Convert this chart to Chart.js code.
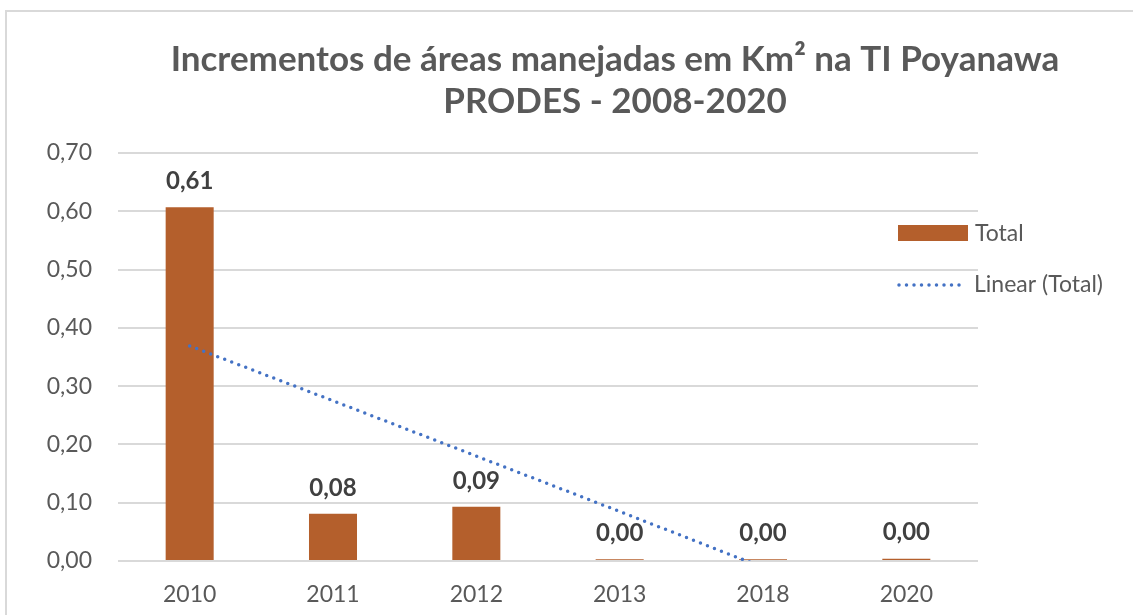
<!DOCTYPE html>
<html>
<head>
<meta charset="utf-8">
<script src="https://cdn.jsdelivr.net/npm/chart.js@4"></script>
<style>
  html, body { margin: 0; padding: 0; background: #fff; }
  #wrap { width: 1133px; height: 615px; position: relative; }
</style>
</head>
<body>
<div id="wrap"><canvas id="chart" width="1133" height="615"></canvas></div>
<script>
const years = ["2010", "2011", "2012", "2013", "2018", "2020"];
const totals = [0.607, 0.081, 0.093, 0.003, 0.003, 0.004];
// dotted trend (falls below zero after 2018, clipped)
const trend = [0.369, 0.275, 0.180, 0.085, -0.011, -0.106];
const titleLines = ["Incrementos de áreas manejadas em Km² na TI Poyanawa", "PRODES - 2008-2020"];

const fmt = v => v.toFixed(2).replace(".", ",");

const frame = {
    id: "frame",
    beforeDraw(chart) {
        const c = chart.ctx;
        c.save();
        c.strokeStyle = "#d9d9d9";
        c.lineWidth = 2;
        c.beginPath();
        c.moveTo(6, 620);
        c.lineTo(6, 11);
        c.lineTo(1140, 11);
        c.stroke();
        c.restore();
    }
};

// title centred on the whole frame, like the original
const topTitle = {
    id: "topTitle",
    afterDraw(chart) {
        const c = chart.ctx;
        c.save();
        c.font = "bold 35px Lato";
        c.fillStyle = "#595959";
        c.textAlign = "center";
        c.textBaseline = "middle";
        c.fillText(titleLines[0], 615, 60);
        c.fillText(titleLines[1], 615, 102);
        c.restore();
    }
};

const valueLabels = {
    id: "valueLabels",
    afterDatasetsDraw(chart) {
        const c = chart.ctx;
        const meta = chart.getDatasetMeta(0);
        c.save();
        c.font = "bold 24px Lato";
        c.fillStyle = "#404040";
        c.textAlign = "center";
        c.textBaseline = "middle";
        meta.data.forEach((bar, i) => {
            c.fillText(fmt(totals[i]), bar.x, bar.y - 26);
        });
        c.restore();
    }
};

const sideLegend = {
    id: "sideLegend",
    afterDraw(chart) {
        const c = chart.ctx;
        c.save();
        c.font = "23px Lato";
        c.textBaseline = "middle";
        // bar entry
        c.fillStyle = chart.data.datasets[0].backgroundColor;
        c.fillRect(898, 225, 70, 16);
        c.fillStyle = "#595959";
        c.fillText(chart.data.datasets[0].label, 975, 234);
        // trend entry
        c.strokeStyle = chart.data.datasets[1].borderColor;
        c.lineWidth = 3.5;
        c.lineCap = "round";
        c.setLineDash([0, 7.5]);
        c.beginPath();
        c.moveTo(899, 285);
        c.lineTo(966, 285);
        c.stroke();
        c.setLineDash([]);
        c.fillText(chart.data.datasets[1].label, 974, 285);
        c.restore();
    }
};

const ctx = document.getElementById("chart").getContext("2d");
const chart = new Chart(ctx, {
    data: {
        labels: years,
        datasets: [
            {
                type: "bar",
                label: "Total",
                data: totals,
                backgroundColor: "#B45F2C",
                categoryPercentage: 1,
                barPercentage: 0.335,
                order: 2
            },
            {
                type: "line",
                label: "Linear (Total)",
                data: trend,
                borderColor: "#4472C4",
                borderWidth: 3.5,
                borderCapStyle: "round",
                borderDash: [0, 7.5],
                pointRadius: 0,
                fill: false,
                order: 1
            }
        ]
    },
    options: {
        responsive: false,
        animation: false,
        layout: { padding: { left: 0, right: 155, top: 153, bottom: 0 } },
        plugins: {
            legend: { display: false },
            tooltip: { enabled: false },
            title: { display: false }
        },
        scales: {
            x: {
                grid: { display: false, drawTicks: false },
                border: { display: false },
                ticks: { color: "#595959", font: { family: "Lato", size: 23 }, padding: 20 },
                afterFit(scale) { scale.height = 54; }
            },
            y: {
                min: 0,
                max: 0.7,
                grid: { color: "#d9d9d9", lineWidth: 2, drawTicks: false },
                border: { display: false },
                ticks: {
                    stepSize: 0.1,
                    color: "#595959",
                    font: { family: "Lato", size: 23 },
                    padding: 26,
                    callback: v => fmt(v)
                },
                afterFit(scale) { scale.width = 118; }
            }
        }
    },
    plugins: [frame, topTitle, valueLabels, sideLegend]
});
</script>
</body>
</html>
